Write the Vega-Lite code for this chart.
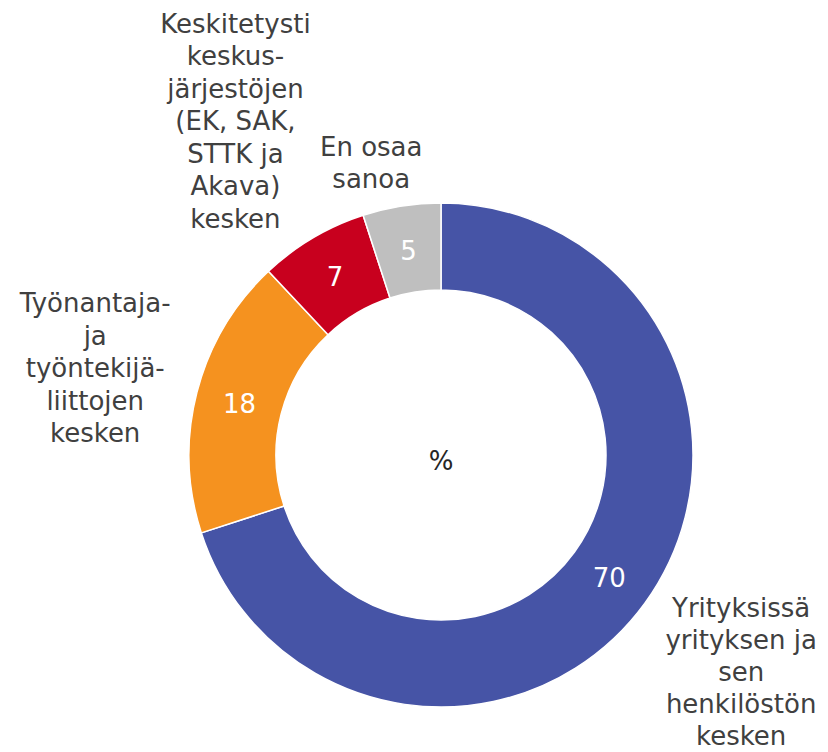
{
  "$schema": "https://vega.github.io/schema/vega-lite/v6.json",
  "width": 774,
  "height": 594,
  "autosize": "none",
  "padding": {"left": 54, "top": 158, "right": 0, "bottom": 0},
  "background": "white",
  "config": {"view": {"stroke": null}, "font": "DejaVu Sans"},
  "data": {
    "values": [
      {"cat": "Yrityksissä\nyrityksen ja\nsen\nhenkilöstön\nkesken", "value": 70, "order": 1},
      {"cat": "Työnantaja-\nja\ntyöntekijä-\nliittojen\nkesken", "value": 18, "order": 2},
      {"cat": "Keskitetysti\nkeskus-\njärjestöjen\n(EK, SAK,\nSTTK ja\nAkava)\nkesken", "value": 7, "order": 3},
      {"cat": "En osaa\nsanoa", "value": 5, "order": 4}
    ]
  },
  "layer": [
    {
      "mark": {"type": "arc", "outerRadius": 252, "innerRadius": 165, "stroke": "white", "strokeWidth": 1.5},
      "encoding": {
        "theta": {"field": "value", "type": "quantitative", "stack": true},
        "order": {"field": "order", "type": "quantitative"},
        "color": {
          "field": "order",
          "type": "nominal",
          "legend": null,
          "scale": {"domain": [1, 2, 3, 4], "range": ["#4654A6", "#F5921F", "#C8001E", "#BFBFBF"]}
        }
      }
    },
    {
      "mark": {"type": "text", "radius": 208, "dy": 2, "fontSize": 26, "fill": "white", "align": "center", "baseline": "middle"},
      "encoding": {
        "theta": {"field": "value", "type": "quantitative", "stack": true},
        "order": {"field": "order", "type": "quantitative"},
        "text": {"field": "value", "type": "quantitative"}
      }
    },
    {
      "mark": {"type": "text", "radius": 371, "dy": -64, "fontSize": 26, "fill": "#404040", "align": "center", "baseline": "middle", "lineBreak": "\n", "lineHeight": 32},
      "encoding": {
        "theta": {"field": "value", "type": "quantitative", "stack": true},
        "order": {"field": "order", "type": "quantitative"},
        "text": {"condition": {"test": "datum.order == 1", "field": "cat"}, "value": ""}
      }
    },
    {
      "mark": {"type": "text", "radius": 357, "dy": -62, "fontSize": 26, "fill": "#404040", "align": "center", "baseline": "middle", "lineBreak": "\n", "lineHeight": 32.5},
      "encoding": {
        "theta": {"field": "value", "type": "quantitative", "stack": true},
        "order": {"field": "order", "type": "quantitative"},
        "text": {"condition": {"test": "datum.order == 2", "field": "cat"}, "value": ""}
      }
    },
    {
      "mark": {"type": "text", "radius": 392, "dx": -6, "dy": -93, "fontSize": 26, "fill": "#404040", "align": "center", "baseline": "middle", "lineBreak": "\n", "lineHeight": 32.5},
      "encoding": {
        "theta": {"field": "value", "type": "quantitative", "stack": true},
        "order": {"field": "order", "type": "quantitative"},
        "text": {"condition": {"test": "datum.order == 3", "field": "cat"}, "value": ""}
      }
    },
    {
      "mark": {"type": "text", "radius": 299, "dx": -23, "dy": -12, "fontSize": 26, "fill": "#404040", "align": "center", "baseline": "middle", "lineBreak": "\n", "lineHeight": 32.5},
      "encoding": {
        "theta": {"field": "value", "type": "quantitative", "stack": true},
        "order": {"field": "order", "type": "quantitative"},
        "text": {"condition": {"test": "datum.order == 4", "field": "cat"}, "value": ""}
      }
    },
    {
      "data": {"values": [{"t": "%"}]},
      "mark": {"type": "text", "fontSize": 26, "fill": "#262626", "align": "center", "baseline": "middle", "dy": 7},
      "encoding": {"text": {"field": "t", "type": "nominal"}}
    }
  ]
}
